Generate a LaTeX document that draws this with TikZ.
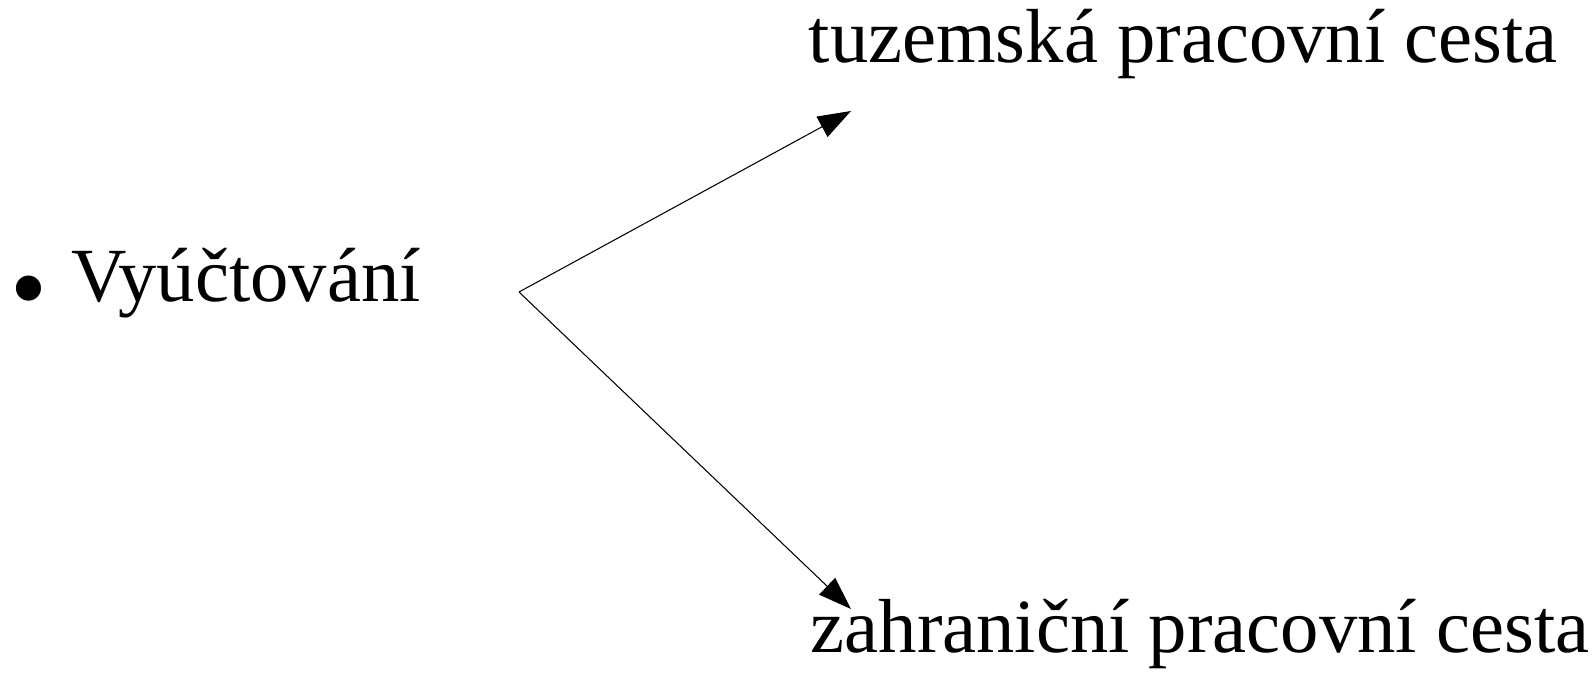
\documentclass[tikz,border=0pt]{standalone}
\usepackage{fontspec}
\setmainfont{Liberation Serif}
\usepackage{tikz}
\usetikzlibrary{positioning,arrows.meta}

\begin{document}
\begin{tikzpicture}
[
item-a/.style={inner sep=0pt, font=\fontsize{21.8pt}{26pt}\selectfont},
bullet-a/.style={inner sep=0pt, font=\fontsize{30pt}{34pt}\selectfont},
arrow-a/.style={line width=0.3pt, -{Triangle[length=3.3mm, width=2.3mm]}}
]
\useasboundingbox (0,0) rectangle (15.95,6.72);
\node (vyuct)   [item-a, anchor=base west] at (0.71,3.70) {Vyúčtování};
\node (bullet)  [bullet-a, anchor=base west] at (0.10,3.48) {•};
\node (tuzem)   [item-a, anchor=base west] at (8.08,6.09) {tuzemská pracovní cesta};
\node (zahran)  [item-a, anchor=base west] at (8.10,0.20) {zahraniční pracovní cesta};
\coordinate (split)      at (5.19,3.80);
\coordinate (tuzem-tip)  at (8.51,5.61);
\coordinate (zahran-tip) at (8.51,0.63);
\draw [arrow-a] (split) -- (tuzem-tip);
\draw [arrow-a] (split) -- (zahran-tip);
\end{tikzpicture}
\end{document}
